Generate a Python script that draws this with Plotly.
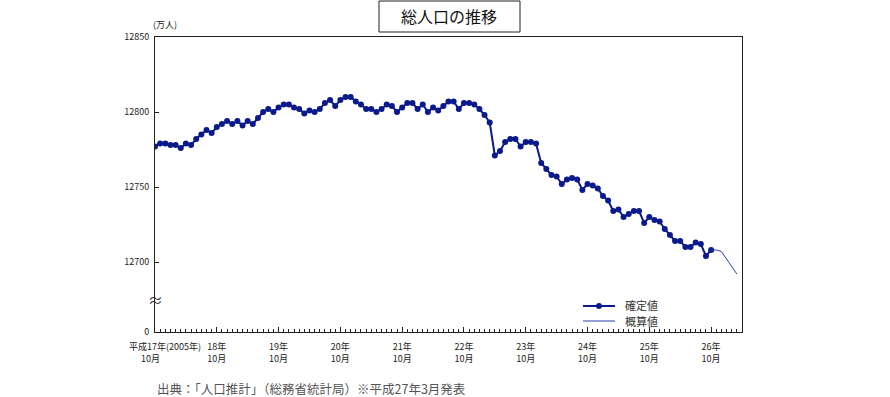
import plotly.graph_objects as go

# 確定値 (monthly, 平成17年10月 .. 平成26年10月), 単位: 万人
confirmed = [
    12777, 12779, 12779, 12778, 12778, 12776, 12779, 12778, 12782, 12785,
    12788, 12786, 12790, 12792, 12794, 12792, 12794, 12791, 12794, 12792,
    12796, 12800, 12802, 12800, 12803, 12805, 12805, 12803, 12802, 12799,
    12801, 12800, 12802, 12806, 12808, 12804, 12808, 12810, 12810, 12807,
    12805, 12802, 12802, 12800, 12802, 12805, 12804, 12800, 12803, 12806,
    12806, 12802, 12805, 12800, 12803, 12801, 12804, 12807, 12807, 12802,
    12806, 12806, 12805, 12802, 12798, 12793, 12771, 12774, 12780, 12782,
    12782, 12777, 12780, 12780, 12779, 12766, 12762, 12758, 12757, 12752,
    12755, 12756, 12755, 12748, 12752, 12751, 12749, 12744, 12741, 12734,
    12735, 12730, 12732, 12734, 12734, 12726, 12730, 12728, 12727, 12722,
    12718, 12714, 12714, 12710, 12710, 12713, 12712, 12704, 12708,
]
# 概算値 (平成26年10月 .. 平成27年3月)
estimated = [12708, 12708, 12707, 12702, 12697, 12692]

year_labels = ["18年", "19年", "20年", "21年", "22年", "23年", "24年", "25年", "26年"]
month_label = "10月"
y_ticks = [12700, 12750, 12800, 12850]
legend_names = ["確定値", "概算値"]

NAVY = "#0a1a8c"
EST = "#2a3f9f"

x_conf = list(range(len(confirmed)))
x_est = list(range(len(confirmed) - 1, len(confirmed) - 1 + len(estimated)))

fig = go.Figure()
fig.add_trace(go.Scatter(
    x=x_conf, y=confirmed, mode="lines+markers", name=legend_names[0],
    line=dict(color=NAVY, width=2),
    marker=dict(color=NAVY, size=6),
))
fig.add_trace(go.Scatter(
    x=x_est, y=estimated, mode="lines", name=legend_names[1],
    line=dict(color=EST, width=1),
))

FONT = "Noto Sans CJK JP"
y_bottom = 12850 - 295 / 1.5
tickvals_x = [12 * (k + 1) for k in range(len(year_labels))]
ticktext_x = [f"{y}<br>{month_label}" for y in year_labels]

# plot area spans x 155..742, y 37..332 on screen
fig.update_layout(
    width=890, height=397,
    margin=dict(l=155, r=148, t=37, b=65, autoexpand=False),
    paper_bgcolor="white", plot_bgcolor="white",
    font=dict(family=FONT, color="#222", size=9),
    showlegend=False,
    xaxis=dict(
        range=[0, 114], showgrid=False, zeroline=False,
        showline=True, linecolor="#222", linewidth=1, mirror=True,
        tickmode="array", tickvals=[0] + tickvals_x, ticktext=[""] + ticktext_x,
        ticks="inside", ticklen=5, tickcolor="#222", ticklabelstandoff=6,
        minor=dict(tick0=0, dtick=1, ticks="inside", ticklen=3, tickcolor="#222"),
        tickfont=dict(size=9, family=FONT, color="#222"),
    ),
    yaxis=dict(
        range=[y_bottom, 12850], showgrid=False, zeroline=False,
        showline=True, linecolor="#222", linewidth=1, mirror=True,
        tickmode="array", tickvals=[y_bottom] + y_ticks,
        ticktext=["0"] + [str(v) for v in y_ticks],
        ticks="inside", ticklen=4, tickcolor="#222", ticklabelstandoff=3,
        tickfont=dict(size=9, family=FONT, color="#222"),
    ),
)


def px_x(px):
    return (px - 155) / 587


def px_y(py):
    return (332 - py) / 295


# title box
fig.add_shape(type="rect", xref="paper", yref="paper",
              x0=px_x(379), x1=px_x(520), y0=px_y(32), y1=px_y(1),
              line=dict(color="#222", width=1), fillcolor="white")
fig.add_annotation(text="総人口の推移", xref="paper", yref="paper",
                   x=px_x(449), y=px_y(16), xanchor="center", yanchor="middle",
                   showarrow=False, font=dict(size=16, family=FONT, color="#111"))
# unit
fig.add_annotation(text="(万人)", xref="paper", yref="paper",
                   x=px_x(151), y=px_y(24), xanchor="left", yanchor="middle",
                   showarrow=False, font=dict(size=9, family=FONT, color="#222"))
# axis break
fig.add_annotation(text="≈", xref="paper", yref="paper",
                   x=0, y=px_y(299), xanchor="center", yanchor="middle",
                   showarrow=False, font=dict(size=15, family=FONT, color="#333"))
# first x label
fig.add_annotation(text="平成17年(2005年)", xref="paper", yref="paper",
                   x=px_x(165), y=px_y(346), xanchor="center", yanchor="middle",
                   showarrow=False, font=dict(size=9, family=FONT, color="#222"))
fig.add_annotation(text=month_label, xref="paper", yref="paper",
                   x=px_x(150), y=px_y(358), xanchor="center", yanchor="middle",
                   showarrow=False, font=dict(size=9, family=FONT, color="#222"))

# legend (drawn manually for compact row spacing)
fig.add_shape(type="line", xref="paper", yref="paper",
              x0=px_x(583), x1=px_x(615), y0=px_y(306), y1=px_y(306),
              line=dict(color=NAVY, width=2))
fig.add_shape(type="circle", xref="paper", yref="paper",
              x0=px_x(596), x1=px_x(602), y0=px_y(309), y1=px_y(303),
              line=dict(color=NAVY, width=0), fillcolor=NAVY)
fig.add_shape(type="line", xref="paper", yref="paper",
              x0=px_x(583), x1=px_x(615), y0=px_y(321), y1=px_y(321),
              line=dict(color=EST, width=1))
for name, py in zip(legend_names, [305, 321]):
    fig.add_annotation(text=name, xref="paper", yref="paper",
                       x=px_x(623), y=px_y(py), xanchor="left", yanchor="middle",
                       showarrow=False, font=dict(size=11, family=FONT, color="#333"))

# source
fig.add_annotation(text="出典：「人口推計」（総務省統計局）※平成27年3月発表",
                   xref="paper", yref="paper", x=0, y=px_y(388),
                   xanchor="left", yanchor="middle", showarrow=False,
                   font=dict(size=12.5, family=FONT, color="#555"))

fig.write_html(
    "out.html",
    config={"displayModeBar": False},
    post_script="document.body.style.margin='0px';document.body.style.overflow='hidden';",
)
